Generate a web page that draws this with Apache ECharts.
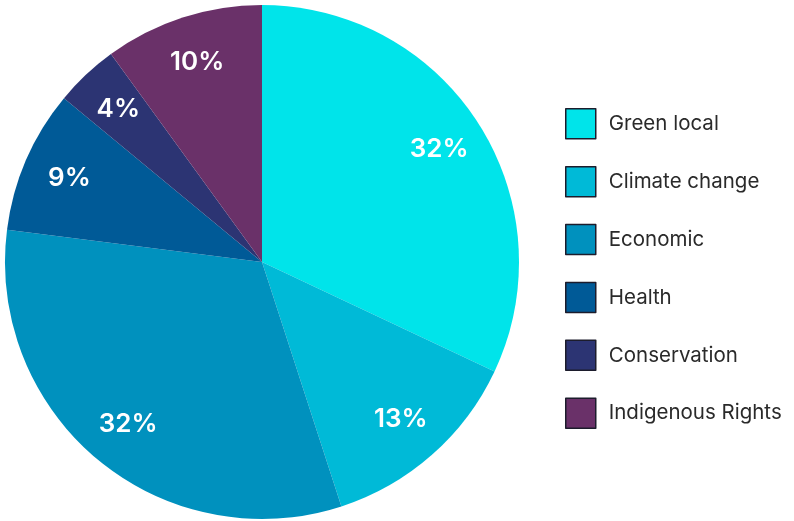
<!DOCTYPE html>
<html>
<head>
<meta charset="utf-8">
<style>
  html, body { margin: 0; padding: 0; background: #ffffff; }
  #chart { width: 794px; height: 521px; }
</style>
<script src="https://cdn.jsdelivr.net/npm/echarts@6/dist/echarts.min.js"></script>
</head>
<body>
<div id="chart"></div>
<script>
// Share of projects by focus area (percent)
const categories = ['Green local', 'Climate change', 'Economic', 'Health', 'Conservation', 'Indigenous Rights'];
const shares = [32, 13, 32, 9, 4, 10];
const colors = ['#00E4EA', '#00BAD7', '#0091BE', '#005A97', '#2C3473', '#6A3169'];

const sliceData = categories.map((name, i) => ({
  name: name,
  value: shares[i],
  itemStyle: { color: colors[i] }
}));

const chart = echarts.init(document.getElementById('chart'), null, { renderer: 'canvas' });

const center = [262, 262];
const outer = 257;

chart.setOption({
  backgroundColor: '#ffffff',
  animation: false,
  legend: {
    orient: 'vertical',
    left: 565,
    top: 108,
    padding: 0,
    itemWidth: 30,
    itemHeight: 30,
    itemGap: 26.4,
    icon: 'rect',
    selectedMode: false,
    data: categories,
    itemStyle: { borderColor: '#1c1c2c', borderWidth: 1.5 },
    textStyle: {
      fontFamily: 'Inter, "Noto Sans", sans-serif',
      fontSize: 20.5,
      color: '#2a2a2a',
      padding: [0, 0, 0, 8]
    }
  },
  series: [
    {
      type: 'pie',
      center: center,
      radius: [0, outer],
      startAngle: 90,
      clockwise: true,
      silent: true,
      label: { show: false },
      labelLine: { show: false },
      itemStyle: { borderWidth: 0 },
      data: sliceData
    },
    {
      // transparent ring used only to place the percentage labels near the rim
      type: 'pie',
      center: center,
      radius: [outer * 0.61, outer],
      startAngle: 90,
      clockwise: true,
      silent: true,
      itemStyle: { color: 'rgba(0,0,0,0)', borderWidth: 0 },
      label: {
        show: true,
        position: 'inside',
        formatter: '{c}%',
        color: '#ffffff',
        fontFamily: 'Inter, "Noto Sans", sans-serif',
        fontWeight: 600,
        fontSize: 26
      },
      labelLine: { show: false },
      data: categories.map((name, i) => ({ name: name, value: shares[i] }))
    }
  ]
});
</script>
</body>
</html>
